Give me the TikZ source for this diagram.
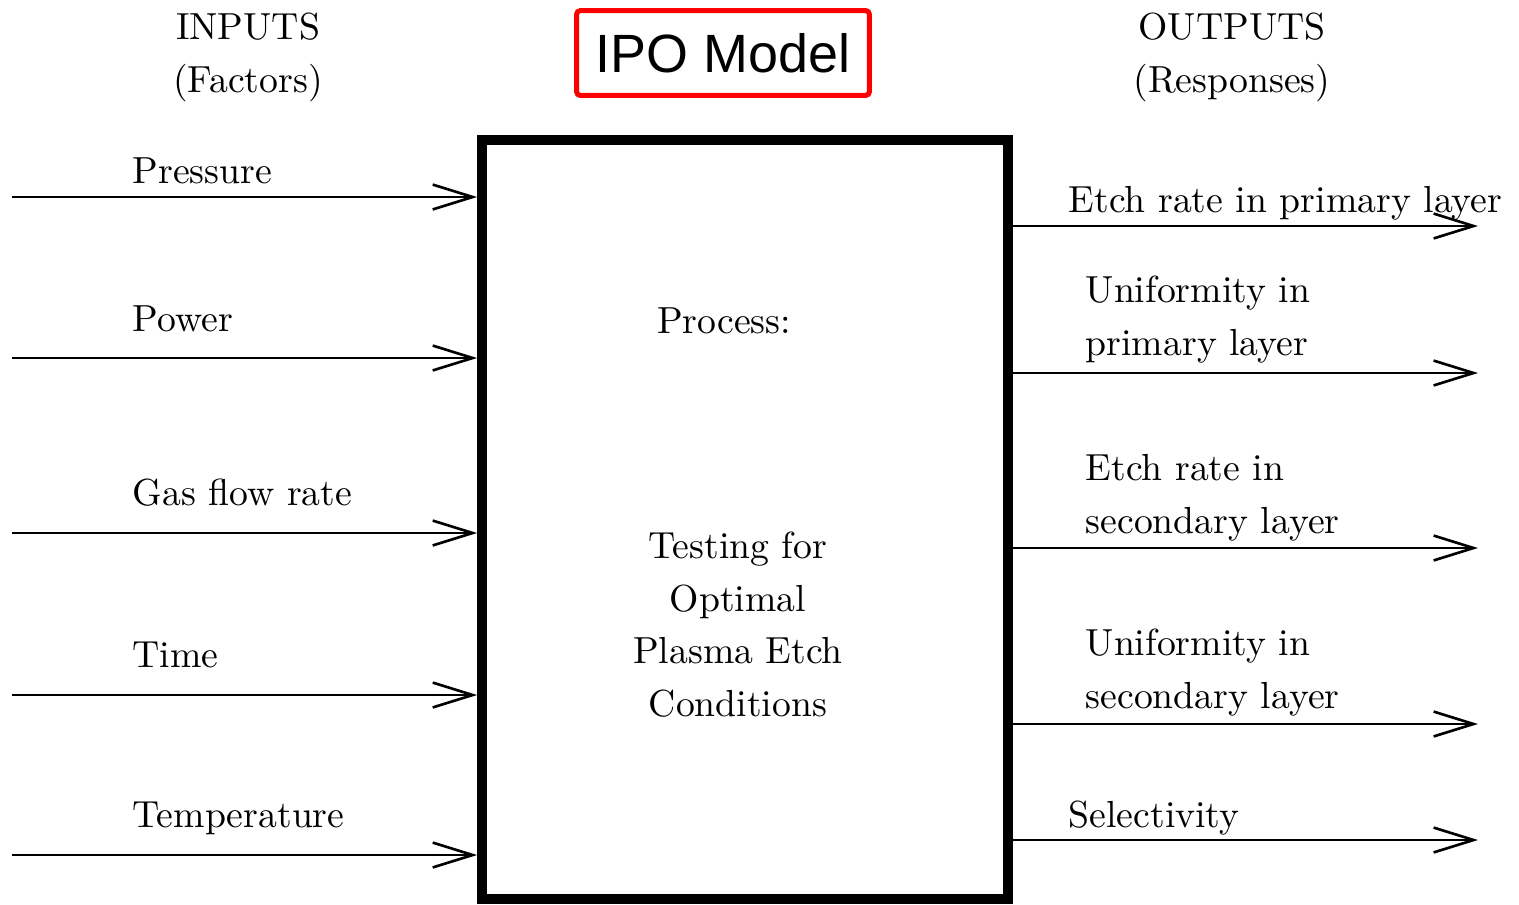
\documentclass[tikz,border=0pt]{standalone}
\usepackage{fontspec}
\newfontfamily\titlefont{Liberation Sans}
\usetikzlibrary{arrows.meta,positioning}
\tikzset{
  procbox/.style = {rectangle, draw=black, line width=2.65pt,
                    minimum width=139.5pt, minimum height=201.4pt, inner sep=0pt},
  ipobox/.style  = {rectangle, draw=red, line width=1.33pt, rounded corners=1pt,
                    minimum width=77.7pt, minimum height=22.5pt, inner sep=0pt,
                    font=\titlefont\fontsize{14.3}{16}\selectfont},
  ar/.style      = {-{Straight Barb[length=10.6pt,width=6.6pt]}, line width=0.7pt},
  lbl/.style     = {anchor=base west, inner sep=0pt, align=left,
                    font=\fontsize{10}{13.9}\selectfont},
  hd/.style      = {anchor=base, inner sep=0pt, align=center,
                    font=\fontsize{10}{13.9}\selectfont},
}
\begin{document}
\begin{tikzpicture}[x=0.2653pt,y=-0.2653pt]
  \useasboundingbox (0,0) rectangle (1519,904);
  % title and headings (base = last line)
  \node[ipobox] (title) at (723,53) {IPO Model};
  \node[hd] (inhd) at (248,92) {INPUTS\\(Factors)};
  \node[hd] (outhd) at (1232,92) {OUTPUTS\\(Responses)};
  % process box
  \node[procbox] (proc) at (745,519.5) {};
  \node[hd] (ptitle) at (724,333) {Process:};
  \node[hd] (ptext) at (738,716) {Testing for\\Optimal\\Plasma Etch\\Conditions};
  % inputs
  \foreach \n/\ly/\by/\txt in {1/197/183/Pressure, 2/358/331/Power,
      3/533/505/Gas flow rate, 4/695/667/Time, 5/855/827/Temperature}{
    \coordinate (in\n) at (12,\ly);
    \node[lbl] (inl\n) at (132,\by) {\txt};
    \draw[ar] (in\n) -- (in\n -| proc.west);
  }
  % outputs
  \foreach \n/\ly/\bx/\by/\txt in {1/226/1068/212/Etch rate in primary layer,
      2/373/1085/355/Uniformity in\\primary layer,
      3/548/1085/533/Etch rate in\\secondary layer,
      4/724/1085/708/Uniformity in\\secondary layer,
      5/840/1068/827/Selectivity}{
    \coordinate (out\n) at (1478,\ly);
    \node[lbl] (outl\n) at (\bx,\by) {\txt};
    \draw[ar] (out\n -| proc.east) -- (out\n);
  }
\end{tikzpicture}
\end{document}
